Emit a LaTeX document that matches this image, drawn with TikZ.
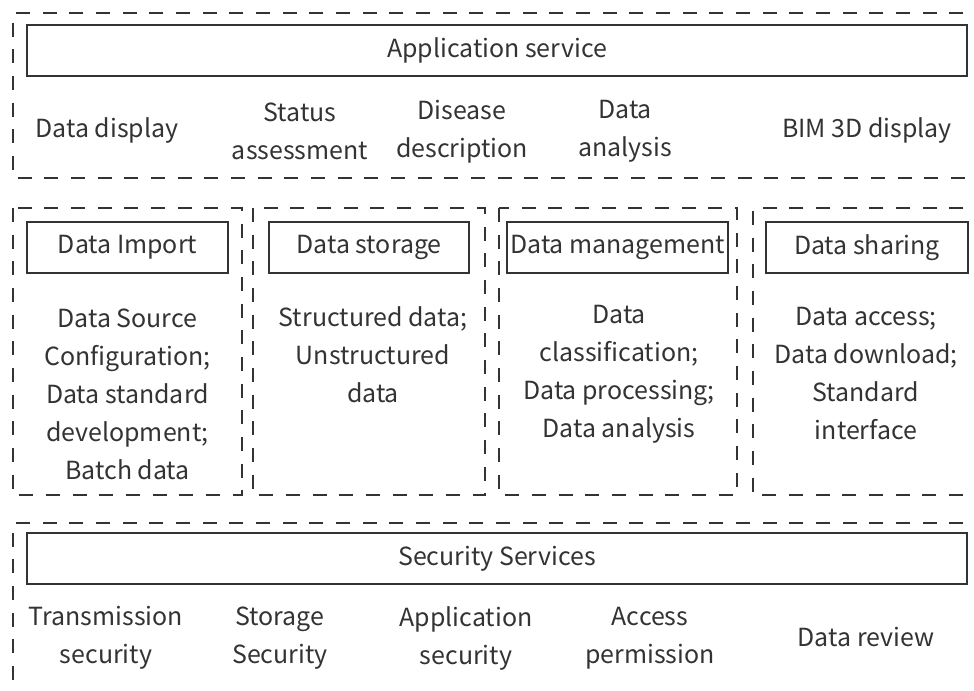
\documentclass[tikz,border=0pt]{standalone}
\usepackage{fontspec}
\setmainfont{Noto Sans CJK SC}
\definecolor{ink}{HTML}{333333}
\begin{document}
\begin{tikzpicture}[x=0.75pt,y=-0.75pt,
  frame/.style={draw=ink, line width=2pt, dash pattern=on 10.5pt off 9.5pt},
  titlebox/.style={draw=ink, line width=1.9pt, inner sep=0pt, minimum height=38.25pt, text=ink, font=\fontsize{18.7}{28.5}\selectfont},
  item/.style={align=center, inner sep=0pt, text=ink, font=\fontsize{18.7}{28.5}\selectfont}]
\useasboundingbox[fill=white] (0,0) rectangle (974,691);
\clip (0,0) rectangle (974,691);
% dashed frames
\draw[frame] (990,13) -- (13,13) -- (13,178) -- (990,178);
\draw[frame] (13,208) rectangle (242,495);
\draw[frame] (253,208) rectangle (485,495);
\draw[frame] (499,208) rectangle (737,495);
\draw[frame] (990,208) -- (753,208) -- (753,495) -- (990,495);
\draw[frame] (990,523) -- (13,523) -- (13,700);
% application layer
\node[titlebox, minimum width=705pt] (app) at (497,50.5) {Application service};
\node[item] (a1) at (107,130) {Data display};
\node[item] (a2) at (300,131.5) {Status\\assessment};
\node[item] (a3) at (462,131.5) {Disease\\description};
\node[item] (a4) at (625,131.5) {Data\\analysis};
\node[item] (a5) at (867,130) {BIM 3D display};
% middle layer
\node[titlebox, minimum width=150.75pt] (imp) at (127.5,247.5) {Data Import};
\node[titlebox, minimum width=150pt] (sto) at (369,247.5) {Data storage};
\node[titlebox, minimum width=165.75pt] (man) at (617.5,247.5) {Data management};
\node[titlebox, minimum width=151.5pt] (sha) at (867,247.5) {Data sharing};
\node[item] (impt) at (127.5,394) {Data Source\\Configuration;\\Data standard\\development;\\Batch data};
\node[item] (stot) at (373,355) {Structured data;\\Unstructured\\data};
\node[item] (mant) at (619,374) {Data\\classification;\\Data processing;\\Data analysis};
\node[item] (shat) at (866,374) {Data access;\\Data download;\\Standard\\interface};
% security layer
\node[titlebox, minimum width=705pt] (sec) at (497,558.5) {Security Services};
\node[item] (s1) at (106,638) {Transmission\\security};
\node[item] (s2) at (280,638) {Storage\\Security};
\node[item] (s3) at (466,638) {Application\\security};
\node[item] (s4) at (650,638) {Access\\permission};
\node[item] (s5) at (866,637) {Data review};
\end{tikzpicture}
\end{document}
